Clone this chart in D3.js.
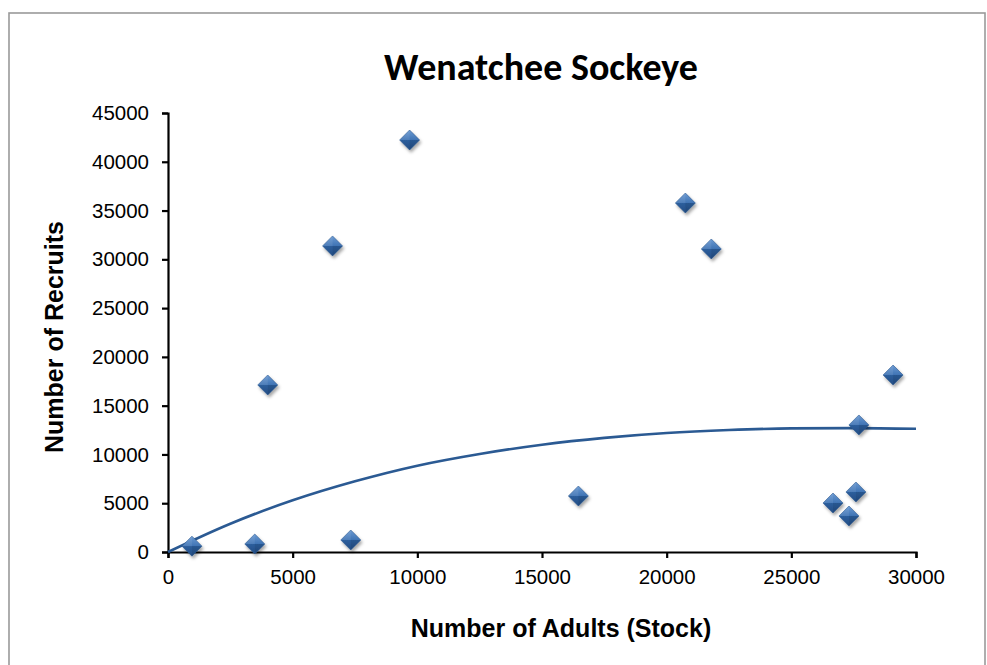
<!DOCTYPE html>
<html>
<head>
<meta charset="utf-8">
<script src="https://cdn.jsdelivr.net/npm/d3@7"></script>
<style>
  html, body { margin: 0; padding: 0; background: #fff; }
  svg { display: block; }
</style>
</head>
<body>
<svg id="chart" width="987" height="665"></svg>
<script>
// ---- data ----
const title = "Wenatchee Sockeye";
const xLabel = "Number of Adults (Stock)";
const yLabel = "Number of Recruits";

const stock    = [960, 3480, 4000, 6600, 7330, 9690, 16460, 20750, 21790, 26670, 27310, 27590, 27710, 29080];
const recruits = [600, 820, 17120, 31370, 1230, 42230, 5740, 35770, 31060, 5020, 3690, 6150, 13020, 18140];

// fitted curve
const curveStock    = [0, 2500, 5000, 7500, 10000, 12500, 15000, 17500, 20000, 22500, 25000, 27500, 30000];
const curveRecruits = [0, 2900, 5300, 7250, 8850, 10050, 11000, 11700, 12200, 12500, 12670, 12700, 12630];

const xTicks = [0, 5000, 10000, 15000, 20000, 25000, 30000];
const yTicks = [0, 5000, 10000, 15000, 20000, 25000, 30000, 35000, 40000, 45000];

(function () {
// ---- layout ----
const svg = d3.select("#chart");
const pL = 168, pR = 916, pT = 113, pB = 552;

const x = d3.scaleLinear().domain([0, 30000]).range([pL, pR]);
const y = d3.scaleLinear().domain([0, 45000]).range([pB, pT]);

// outer chart border
svg.append("rect")
  .attr("x", 9).attr("y", 13)
  .attr("width", 976).attr("height", 700)
  .attr("fill", "#fff")
  .attr("stroke", "#9a9a9a").attr("stroke-width", 1.6);

const defs = svg.append("defs");
const grad = defs.append("linearGradient").attr("id", "mk")
  .attr("x1", 0).attr("y1", 0).attr("x2", 0).attr("y2", 1);
grad.append("stop").attr("offset", "0%").attr("stop-color", "#6b9ad3");
grad.append("stop").attr("offset", "49%").attr("stop-color", "#4074b4");
grad.append("stop").attr("offset", "51%").attr("stop-color", "#2d5e9c");
grad.append("stop").attr("offset", "100%").attr("stop-color", "#234d84");
const f = defs.append("filter").attr("id", "sh")
  .attr("x", "-50%").attr("y", "-50%").attr("width", "200%").attr("height", "200%");
f.append("feDropShadow").attr("dx", 1.5).attr("dy", 2.5).attr("stdDeviation", 1.6)
  .attr("flood-color", "#000").attr("flood-opacity", 0.35);

// title
svg.append("text")
  .attr("x", 541).attr("y", 80)
  .attr("text-anchor", "middle")
  .style("font-family", "Calibri, Carlito, Lato, sans-serif")
  .style("font-weight", "bold")
  .style("font-size", "38px")
  .attr("fill", "#000")
  .text(title);

// axes
const tickFont = "'Liberation Sans', Arial, sans-serif";
const xAxis = svg.append("g")
  .attr("transform", `translate(0,${pB})`)
  .call(d3.axisBottom(x).tickValues(xTicks).tickSize(6).tickPadding(8).tickFormat(d3.format("d")));
const yAxis = svg.append("g")
  .attr("transform", `translate(${pL},0)`)
  .call(d3.axisLeft(y).tickValues(yTicks).tickSize(6).tickPadding(13).tickFormat(d3.format("d")));

[xAxis, yAxis].forEach(g => {
  g.select(".domain").attr("stroke", "#000").attr("stroke-width", 2.2);
  g.selectAll(".tick line").attr("stroke", "#000").attr("stroke-width", 2.2);
  g.selectAll(".tick text")
    .style("font-family", tickFont)
    .style("font-size", "20.5px")
    .attr("fill", "#000");
});
xAxis.selectAll(".tick text").attr("dy", "0.9em");

// axis titles
svg.append("text")
  .attr("x", 561).attr("y", 637)
  .attr("text-anchor", "middle")
  .style("font-family", tickFont)
  .style("font-weight", "bold")
  .style("font-size", "25px")
  .text(xLabel);

svg.append("text")
  .attr("transform", "translate(63,337) rotate(-90)")
  .attr("text-anchor", "middle")
  .style("font-family", tickFont)
  .style("font-weight", "bold")
  .style("font-size", "25px")
  .text(yLabel);

// fitted curve
const curveData = curveStock.map((s, i) => [s, curveRecruits[i]]);
svg.append("path")
  .datum(curveData)
  .attr("fill", "none")
  .attr("stroke", "#2b5a93")
  .attr("stroke-width", 2.6)
  .attr("d", d3.line().x(d => x(d[0])).y(d => y(d[1])).curve(d3.curveMonotoneX));

// points
const pts = stock.map((s, i) => ({ s, r: recruits[i] }));
const g = svg.append("g");
pts.forEach(p => {
  const cx = x(p.s), cy = y(p.r);
  const pg = g.append("g").attr("transform", `translate(${cx},${cy})`).attr("filter", "url(#sh)");
  const h = 10;
  pg.append("path")
    .attr("d", `M0,${-h}L${h},0L0,${h}L${-h},0Z`)
    .attr("fill", "url(#mk)")
    .attr("stroke", "#2a578f").attr("stroke-width", 0.6);
  pg.append("path").attr("d", `M0,${-h}L${-h},0L0,0Z`).attr("fill", "#ffffff").attr("opacity", 0.08);
  pg.append("path").attr("d", `M0,${h}L${h},0L0,0Z`).attr("fill", "#000").attr("opacity", 0.08);
});
})();
</script>
</body>
</html>
